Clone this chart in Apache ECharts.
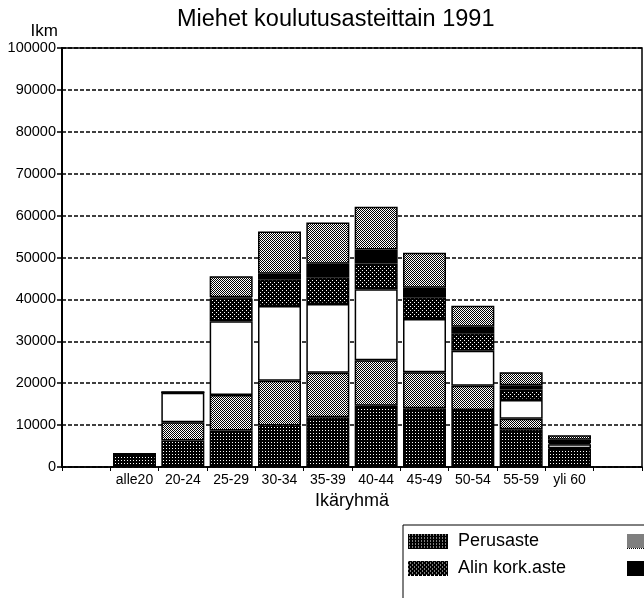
<!DOCTYPE html>
<html>
<head>
<meta charset="utf-8">
<script src="https://cdn.jsdelivr.net/npm/echarts@6/dist/echarts.min.js"></script>
<style>
  html, body { margin: 0; padding: 0; background: #fff; }
  #chart { width: 644px; height: 598px; }
</style>
</head>
<body>
<div id="chart"></div>
<script>
// Age groups (empty slots pad both ends of the axis)
const categories = ['', 'alle20', '20-24', '25-29', '30-34', '35-39', '40-44', '45-49', '50-54', '55-59', 'yli 60', ''];

// Men by level of education, persons
const perusaste   = [null, 3000, 6300, 8700, 9900, 11900, 14600, 14000, 13600, 9000, 4300, null];
const alempiKesk  = [null, 100, 4400, 8500, 10700, 10600, 10900, 8600, 5800, 2500, 200, null];
const ylempiKesk  = [null, 0, 7000, 17600, 17800, 16400, 16950, 12700, 8350, 4500, 900, null];
const alinKork    = [null, 0, 150, 5400, 6400, 6400, 6100, 5200, 4150, 2500, 300, null];
const alempiKand  = [null, 0, 0, 300, 1300, 3200, 3350, 2300, 1600, 1000, 800, null];
const ylempiKand  = [null, 0, 0, 5000, 10100, 9850, 10200, 8350, 5000, 3100, 1100, null];

const seriesNames = ['Perusaste', 'Alempi keskiaste', 'Ylempi keskiaste', 'Alin kork.aste', 'Alempi kand.aste', 'Ylempi kand.aste'];
const yTicks = [0, 10000, 20000, 30000, 40000, 50000, 60000, 70000, 80000, 90000, 100000];

// Halftone tiles: [width, height, background, dot colour, dot pixels]
const tileDefs = [
  [3, 3, '#000', '#fff', [[1, 1]]],                       // dark
  [2, 2, '#fff', '#000', [[0, 0], [1, 1]]],               // light
  [1, 1, '#fff', '#fff', []],                             // white
  [4, 4, '#000', '#fff', [[0, 0], [2, 2]]],               // medium
  [1, 1, '#000', '#000', []],                             // black
  [2, 2, '#fff', '#000', [[0, 0], [1, 1]]]                // light
];

function tileCanvas(def) {
  const [w, h, bg, fg, pts] = def;
  const c = document.createElement('canvas');
  c.width = w; c.height = h;
  const g = c.getContext('2d');
  g.fillStyle = bg; g.fillRect(0, 0, w, h);
  g.fillStyle = fg;
  pts.forEach(p => g.fillRect(p[0], p[1], 1, 1));
  return c;
}
// legend swatch drawn at its final pixel size so the halftone stays crisp
function swatch(def, w, h) {
  const c = document.createElement('canvas');
  c.width = w; c.height = h;
  const g = c.getContext('2d');
  g.fillStyle = g.createPattern(tileCanvas(def), 'repeat');
  g.fillRect(0, 0, w, h);
  return 'image://' + c.toDataURL();
}

const fills = tileDefs.map(d => ({ image: tileCanvas(d), repeat: 'repeat' }));
const values = [perusaste, alempiKesk, ylempiKesk, alinKork, alempiKand, ylempiKand];

const FONT = '"Liberation Sans", Arial, Helvetica, sans-serif';

const chart = echarts.init(document.getElementById('chart'), null, { renderer: 'canvas' });
chart.setOption({
  animation: false,
  backgroundColor: '#fff',
  title: {
    text: 'Miehet koulutusasteittain 1991',
    left: 177,
    top: 8,
    padding: 0,
    textStyle: { fontFamily: FONT, fontSize: 23.5, fontWeight: 'normal', color: '#000' }
  },
  legend: {
    left: 403,
    top: 525,
    width: 700,
    padding: [7, 5, 26, 5],
    itemGap: 9,
    itemWidth: 40,
    itemHeight: 15,
    borderColor: '#000',
    borderWidth: 1,
    backgroundColor: '#fff',
    data: seriesNames.map((n, i) => ({ name: n, icon: swatch(tileDefs[i], 40, 15) })),
    formatter: name => '{n| ' + name + '}',
    textStyle: {
      fontFamily: FONT,
      fontSize: 18,
      color: '#000',
      rich: { n: { width: 165, lineHeight: 15, fontSize: 18, fontFamily: FONT, color: '#000' } }
    }
  },
  grid: {
    left: 62, right: 2, top: 48, bottom: 131,
    show: true, borderColor: '#000', borderWidth: 1.5, backgroundColor: 'transparent'
  },
  xAxis: {
    type: 'category',
    data: categories,
    name: 'Ikäryhmä',
    nameLocation: 'middle',
    nameGap: 25,
    nameTextStyle: { fontFamily: FONT, fontSize: 18, color: '#000' },
    axisLine: { lineStyle: { color: '#000', width: 1.5 } },
    axisTick: { show: true, length: 4, lineStyle: { color: '#000' } },
    axisLabel: { fontFamily: FONT, fontSize: 14, color: '#000', margin: 6, interval: 0 }
  },
  yAxis: {
    type: 'value',
    min: 0,
    max: 100000,
    interval: 10000,
    name: 'Ikm',
    nameLocation: 'end',
    nameGap: 8,
    nameTextStyle: { fontFamily: FONT, fontSize: 17, color: '#000', align: 'right', padding: [0, 4, 0, 0] },
    axisLine: { show: true, lineStyle: { color: '#000', width: 2 } },
    axisTick: { show: true, length: 5, lineStyle: { color: '#000', width: 1.5 } },
    axisLabel: {
      fontFamily: FONT, fontSize: 14.5, color: '#000', margin: 6,
      formatter: v => (yTicks.indexOf(v) >= 0 ? String(v) : '')
    },
    splitLine: { show: true, lineStyle: { color: '#000', width: 1.5, type: [4, 2] } }
  },
  series: values.map((data, i) => ({
    name: seriesNames[i],
    type: 'bar',
    stack: 'total',
    data: data,
    barWidth: 43,
    itemStyle: { color: fills[i], borderColor: '#000', borderWidth: 1.5 }
  }))
});
</script>
</body>
</html>
